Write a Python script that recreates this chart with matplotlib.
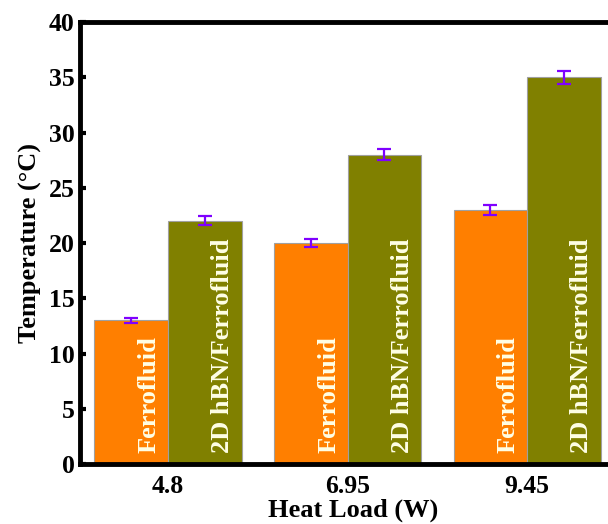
import matplotlib
matplotlib.use("Agg")
import matplotlib.pyplot as plt
import numpy as np

categories = ["4.8", "6.95", "9.45"]
series_names = ["Ferrofluid", "2D hBN/Ferrofluid"]
ferro = [13, 20, 23]
ferro_err = [0.25, 0.4, 0.45]
hbn = [22, 28, 35]
hbn_err = [0.4, 0.5, 0.6]
yticks = [0, 5, 10, 15, 20, 25, 30, 35, 40]

plt.rcParams['font.family'] = ['Liberation Serif', 'DejaVu Serif']
plt.rcParams['font.weight'] = 'bold'

fig = plt.figure(figsize=(6.08, 5.24), dpi=100)
ax = fig.add_axes([0.1316, 0.1145, 0.898, 0.8435])

x = np.arange(len(categories))
w = 0.41
colors = ["#FF7F00", "#808000"]
for vals, errs, off, col, name in [(ferro, ferro_err, -w/2, colors[0], series_names[0]),
                                   (hbn, hbn_err, w/2, colors[1], series_names[1])]:
    ax.bar(x + off, vals, width=w, color=col, edgecolor="#A0A0A0", linewidth=0.8)
    ax.errorbar(x + off, vals, yerr=errs, fmt='none', ecolor="#7F00FF",
                elinewidth=1.6, capsize=5, capthick=1.6)
    for xi in x:
        ax.text(xi + off + 0.1, 1.0, name, rotation=90, ha='center', va='bottom',
                color="#FFFFE6", fontsize=19, fontweight='bold')

ax.set_xlim(-0.49, 2.55)
ax.set_ylim(0, 40)
ax.set_xticks(x)
ax.set_xticklabels(categories)
ax.set_yticks(yticks)
ax.tick_params(axis='y', direction='in', length=4, width=3, labelsize=18.5, pad=4)
ax.tick_params(axis='x', length=0, labelsize=18.5, pad=8)
for s in ax.spines.values():
    s.set_linewidth(3.5)
ax.set_xlabel("Heat Load (W)", fontsize=19, fontweight='bold', labelpad=0)
ax.set_ylabel("Temperature (°C)", fontsize=19, fontweight='bold', labelpad=5)

fig.savefig("out.png", dpi=100)
